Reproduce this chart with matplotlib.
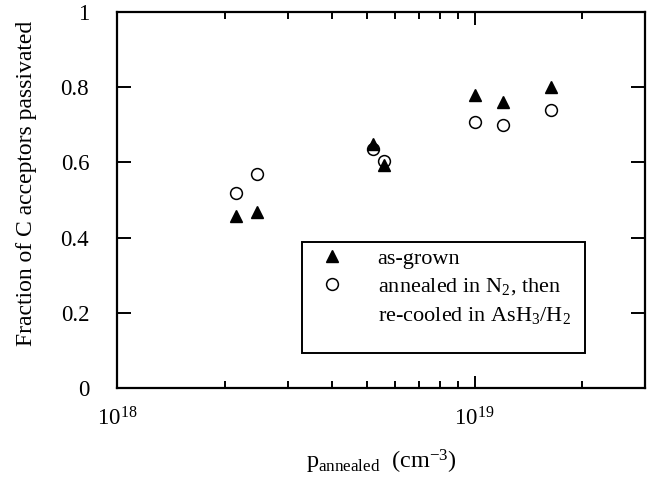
import matplotlib
matplotlib.use("Agg")
import matplotlib.pyplot as plt
from matplotlib.lines import Line2D
from matplotlib.patches import Rectangle
from matplotlib.ticker import LogLocator, NullFormatter

plt.rcParams["font.family"] = ["Liberation Serif", "DejaVu Serif"]
plt.rcParams["mathtext.fontset"] = "custom"
plt.rcParams["mathtext.rm"] = "Liberation Serif"
plt.rcParams["mathtext.it"] = "Liberation Serif:italic"

# hole concentration (cm^-3) and passivated fraction
p_grown = [2.15e18, 2.46e18, 5.2e18, 5.6e18, 1.0e19, 1.2e19, 1.64e19]
frac_grown = [0.458, 0.467, 0.648, 0.592, 0.779, 0.760, 0.800]

p_annealed = [2.15e18, 2.46e18, 5.2e18, 5.6e18, 1.0e19, 1.2e19, 1.64e19]
frac_annealed = [0.518, 0.569, 0.637, 0.605, 0.707, 0.700, 0.739]

fig = plt.figure(figsize=(6.52, 4.82), dpi=100)
ax = fig.add_axes([0.1794, 0.195, 0.81, 0.78])

ax.plot(p_annealed, frac_annealed, "o", ms=8.5, mfc="white", mec="black", mew=1.1, zorder=3)
ax.plot(p_grown, frac_grown, "^", ms=8, color="black", zorder=4)

ax.set_xscale("log")
ax.set_xlim(1e18, 3e19)
ax.set_ylim(0, 1)
ax.set_yticks([0, 0.2, 0.4, 0.6, 0.8, 1])
ax.set_yticklabels(["0", "0.2", "0.4", "0.6", "0.8", "1"])
ax.set_xticks([1e18, 1e19])
ax.set_xticklabels(["10$^{18}$", "10$^{19}$"])
ax.xaxis.set_minor_locator(LogLocator(base=10, subs=range(2, 10)))
ax.xaxis.set_minor_formatter(NullFormatter())

for s in ax.spines.values():
    s.set_linewidth(1.6)
ax.tick_params(which="both", direction="in", top=True, right=True, width=1.4, labelsize=16.5)
ax.tick_params(axis="y", which="major", length=10, pad=20)
ax.tick_params(axis="x", which="major", length=9, pad=14)
ax.tick_params(axis="x", which="minor", length=5)

ax.set_ylabel("Fraction of C acceptors passivated", fontsize=17)
ax.yaxis.set_label_coords(-0.152, 0.545)
ax.set_xlabel(r"p$_{\mathrm{annealed}}$  (cm$^{-3}$)", fontsize=17.5, labelpad=12)

# legend: frame drawn separately so the bottom margin can be larger
ax.add_patch(Rectangle((0.3504, 0.093), 0.5356, 0.295, transform=ax.transAxes,
                       fill=False, ec="black", lw=1.4, zorder=5))
handles = [
    Line2D([], [], marker="^", ls="", ms=8, color="black"),
    Line2D([], [], marker="o", ls="", ms=8.5, mfc="white", mec="black", mew=1.1),
    Line2D([], [], ls="", marker=""),
]
labels = ["as-grown", "annealed in N$_2$, then", "re-cooled in AsH$_3$/H$_2$"]
ax.legend(handles, labels, loc="upper left", bbox_to_anchor=(0.3504, 0.372),
          fontsize=16, frameon=False, borderpad=0, handlelength=2.7,
          handletextpad=0.7, labelspacing=0.35, borderaxespad=0)

fig.savefig("out.png", dpi=100)
